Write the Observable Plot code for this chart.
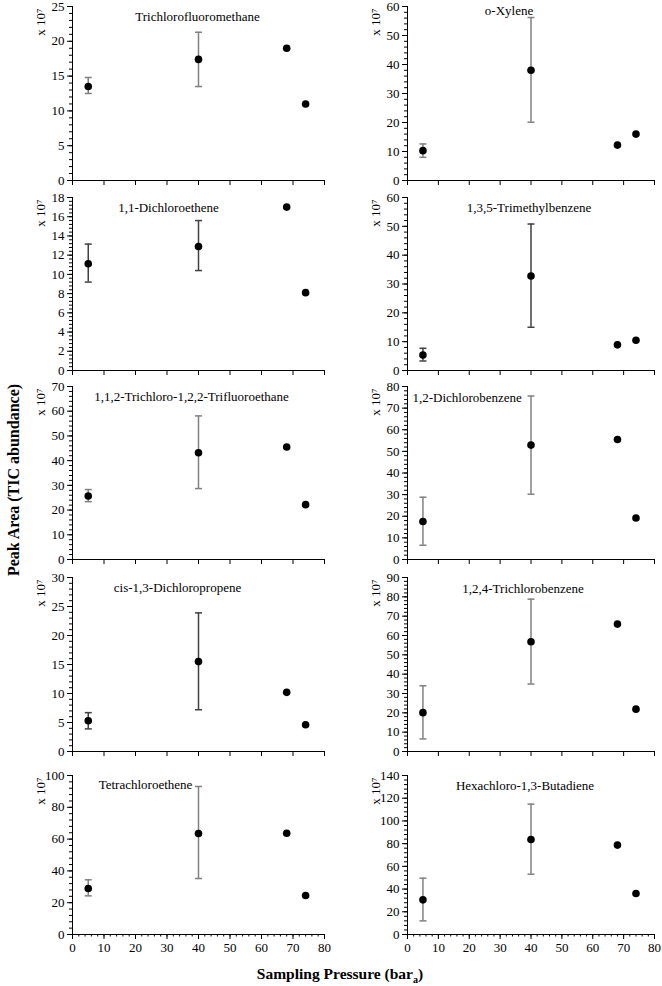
<!DOCTYPE html>
<html><head><meta charset="utf-8">
<script src="https://cdn.jsdelivr.net/npm/d3@7"></script>
<script src="https://cdn.jsdelivr.net/npm/@observablehq/plot@0.6"></script>
<style>
body{margin:0;background:#fff;}
#wrap{position:relative;width:662px;height:986px;background:#fff;font-family:"Liberation Serif","Times New Roman",serif;color:#000;}
.panel{position:absolute;}
.panel, .panel text{font-family:"Liberation Serif","Times New Roman",serif !important;}
#ytitle{position:absolute;left:14px;top:480px;transform:translate(-50%,-50%) rotate(-90deg);font-weight:bold;font-size:16px;white-space:nowrap;}
#xtitle{position:absolute;left:340px;top:975px;transform:translate(-50%,-50%);font-weight:bold;font-size:15.5px;white-space:nowrap;}
#xtitle sub{font-size:10px;}
</style>
</head><body>
<div id="wrap">
  <div id="ytitle">Peak Area (TIC abundance)</div>
  <div id="xtitle">Sampling Pressure (bar<sub>a</sub>)</div>
</div>
<script>
// ---- data ----
const pressure = [5, 40, 68, 74];           // sampling pressure (bar_a)
const errPressure = [5, 40];                 // points with error bars
const compounds = [
  "Trichlorofluoromethane", "o-Xylene",
  "1,1-Dichloroethene", "1,3,5-Trimethylbenzene",
  "1,1,2-Trichloro-1,2,2-Trifluoroethane", "1,2-Dichlorobenzene",
  "cis-1,3-Dichloropropene", "1,2,4-Trichlorobenzene",
  "Tetrachloroethene", "Hexachloro-1,3-Butadiene"
];
// mean peak areas (x 10^7)
const trichlorofluoromethane = [13.5, 17.4, 19.0, 11.0];
const oXylene = [10.3, 38.0, 12.2, 16.0];
const dichloroethene = [11.1, 12.9, 17.0, 8.1];
const trimethylbenzene = [5.4, 32.8, 8.9, 10.5];
const trichlorotrifluoroethane = [25.7, 43.2, 45.5, 22.2];
const dichlorobenzene = [17.6, 52.9, 55.5, 19.2];
const dichloropropene = [5.3, 15.5, 10.2, 4.6];
const trichlorobenzene = [20.1, 56.8, 65.9, 21.9];
const tetrachloroethene = [28.9, 63.5, 63.7, 24.5];
const hexachlorobutadiene = [30.5, 83.7, 78.7, 36.1];
// error bar lower / upper values at 5 and 40 bar
const errLow = [
  [12.5, 13.5], [8.0, 20.1], [9.2, 10.4], [3.3, 15.0], [23.4, 28.7],
  [6.6, 30.2], [3.9, 7.2], [6.5, 34.9], [24.3, 35.2], [12.0, 53.1]
];
const errHigh = [
  [14.8, 21.3], [12.6, 56.2], [13.15, 15.6], [7.7, 50.8], [28.3, 58.1],
  [28.8, 75.6], [6.7, 23.9], [34.0, 78.8], [34.4, 93.1], [49.6, 114.8]
];
// y axis: max and major tick step
const yMax = [25, 60, 18, 60, 70, 80, 30, 90, 100, 140];
const yStep = [5, 10, 2, 10, 10, 10, 5, 10, 20, 20];
const xTicks = [0, 10, 20, 30, 40, 50, 60, 70, 80];
const means = [trichlorofluoromethane, oXylene, dichloroethene, trimethylbenzene,
  trichlorotrifluoroethane, dichlorobenzene, dichloropropene, trichlorobenzene,
  tetrachloroethene, hexachlorobutadiene];

// ---- layout / style ----
const cols = [{left: 0, ml: 72, mr: 7}, {left: 331, ml: 76, mr: 8}];
const rowTop = [6, 197, 386, 577, 775];
const rowBottom = [180, 370, 559, 751, 934];
const titleStyle = [
  {anchor: "middle", dx: -1, dy: 10}, {anchor: "middle", dx: -22, dy: 4},
  {anchor: "middle", dx: -30, dy: 10}, {anchor: "middle", dx: -2, dy: 10},
  {anchor: "middle", dx: -7, dy: 10}, {anchor: "start", dx: 5, dy: 11},
  {anchor: "middle", dx: -21, dy: 10}, {anchor: "middle", dx: -8, dy: 11},
  {anchor: "middle", dx: -53, dy: 9}, {anchor: "middle", dx: -6, dy: 10}
];
const errColor = ["#808080", "#808080", "#404040", "#404040", "#808080",
  "#808080", "#404040", "#808080", "#808080", "#808080"];
const MT = 10, MB = 8, MB_LAST = 30;
const FONT = '"Liberation Serif","Times New Roman",serif';

const hline = {
  draw(context, size) {
    const r = Math.sqrt(size / Math.PI);
    context.moveTo(-r, 0); context.lineTo(r, 0);
  }
};

const wrap = document.getElementById("wrap");
compounds.forEach((name, i) => {
  const r = Math.floor(i / 2), c = i % 2;
  const col = cols[c];
  const last = r === 4;
  const mb = last ? MB_LAST : MB;
  const height = rowBottom[r] - rowTop[r] + MT + mb;
  const pts = pressure.map((p, k) => ({p, v: means[i][k]}));
  const errs = errPressure.map((p, k) => ({p, lo: errLow[i][k], hi: errHigh[i][k]}));
  const caps = errs.flatMap(e => [{p: e.p, v: e.lo}, {p: e.p, v: e.hi}]);
  const major = d3.range(0, yMax[i] + yStep[i] / 2, yStep[i]);
  const minor = d3.range(0, yMax[i] + yStep[i] / 20, yStep[i] / 5);
  const ts = titleStyle[i];
  const marks = [
    Plot.axisY({ticks: minor, tickSize: 3, tickFormat: () => "", label: null}),
    Plot.axisY({ticks: major, tickSize: 5, tickPadding: 3, label: null, fontFamily: FONT}),
    Plot.axisX({ticks: xTicks, tickSize: 5, tickPadding: 3, label: null, fontFamily: FONT,
      tickFormat: last ? (d => d) : (() => "")}),
  ];
  if (last) marks.push(Plot.axisX({ticks: d3.range(0, 81, 2), tickSize: 2.5, tickFormat: () => "", label: null}));
  marks.push(
    Plot.ruleX(errs, {x: "p", y1: "lo", y2: "hi", stroke: errColor[i], strokeWidth: 1.5}),
    Plot.dot(caps, {x: "p", y: "v", symbol: hline, r: 3.5, stroke: errColor[i], strokeWidth: 1.5}),
    Plot.dot(pts, {x: "p", y: "v", r: 3.8, fill: "#000", stroke: "none"}),
    Plot.ruleY([0], {stroke: "#000"}),
    Plot.ruleX([0], {stroke: "#000"}),
    Plot.text([name], {frameAnchor: ts.anchor === "start" ? "top-left" : "top", lineAnchor: "middle",
      textAnchor: ts.anchor, dx: ts.dx, dy: ts.dy, fontSize: 13, fontFamily: FONT, fill: "#000"}),
    Plot.text(["x 10\u2077"], {frameAnchor: "top-left", rotate: -90, textAnchor: "end", lineAnchor: "middle",
      dx: -32, dy: 2, fontSize: 13, fontFamily: FONT, fill: "#000"})
  );
  const svg = Plot.plot({
    width: 331, height,
    marginLeft: col.ml, marginRight: col.mr, marginTop: MT, marginBottom: mb,
    x: {domain: [0, 80]},
    y: {domain: [0, yMax[i]]},
    style: {fontFamily: FONT, fontSize: "13px", color: "#000", background: "transparent", overflow: "visible"},
    marks
  });
  svg.classList.add("panel");
  svg.style.left = col.left + "px";
  svg.style.top = (rowTop[r] - MT) + "px";
  svg.style.position = "absolute";
  wrap.appendChild(svg);
});
</script>
</body></html>
